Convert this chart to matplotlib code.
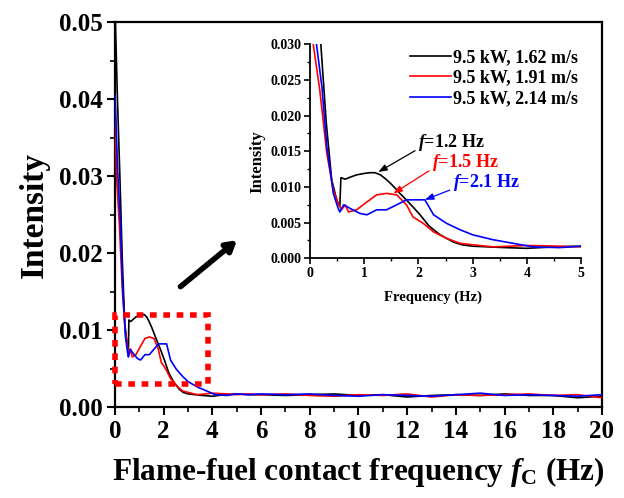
import matplotlib
matplotlib.use("Agg")
import matplotlib.pyplot as plt
from matplotlib.patches import Rectangle
from matplotlib.ticker import MultipleLocator, FormatStrFormatter

plt.rcParams['font.family'] = ['Liberation Serif', 'DejaVu Serif']
plt.rcParams['font.weight'] = 'bold'
plt.rcParams['mathtext.fontset'] = 'custom'
plt.rcParams['mathtext.rm'] = 'Liberation Serif:bold'
plt.rcParams['mathtext.it'] = 'Liberation Serif:bold:italic'
plt.rcParams['mathtext.bf'] = 'Liberation Serif:bold'

labels = ['9.5 kW, 1.62 m/s', '9.5 kW, 1.91 m/s', '9.5 kW, 2.14 m/s']
colors = ['black', 'red', 'blue']

tail_x = [5.5, 6, 7, 8, 9, 10, 11, 12, 13, 14, 15, 16, 17, 18, 19, 20]

black_x = [0, 0.1, 0.2, 0.3, 0.4, 0.5, 0.55, 0.57, 0.65, 0.75, 0.86, 1.0, 1.1, 1.2,
           1.3, 1.4, 1.5, 1.66, 1.8, 1.9, 2.03, 2.2, 2.4, 2.64, 2.8, 3.0, 3.3, 3.6,
           4.0, 4.5, 5.0] + tail_x
black_y = [0.052, 0.040, 0.030, 0.019, 0.011, 0.0080, 0.0073, 0.0113, 0.0111, 0.0114,
           0.0117, 0.0119, 0.0120, 0.0120, 0.0117, 0.0111, 0.0104, 0.0091, 0.0080,
           0.0072, 0.0061, 0.0045, 0.0033, 0.0023, 0.0019, 0.0017, 0.0016, 0.0015,
           0.0014, 0.0016, 0.0017,
           0.0016, 0.0016, 0.0015, 0.0016, 0.0017, 0.0015, 0.0016, 0.0013, 0.0015,
           0.0016, 0.0015, 0.0017, 0.0015, 0.0015, 0.0012, 0.0014]

red_x = [0, 0.06, 0.18, 0.31, 0.43, 0.52, 0.58, 0.65, 0.71, 0.86, 1.05, 1.23, 1.41,
         1.6, 1.78, 1.9, 2.09, 2.28, 2.52, 2.77, 3.0, 3.38, 4.0, 4.6, 5.0] + tail_x
red_y = [0.0405, 0.030, 0.0236, 0.0147, 0.0096, 0.0077, 0.0068, 0.0075, 0.0065, 0.0068,
         0.0079, 0.0089, 0.0091, 0.0089, 0.0075, 0.0058, 0.0049, 0.0037, 0.0028,
         0.0021, 0.0019, 0.0016, 0.0018, 0.0017, 0.0016,
         0.0017, 0.0016, 0.0017, 0.0015, 0.0014, 0.0016, 0.0015, 0.0017, 0.0013,
         0.0016, 0.0015, 0.0016, 0.0017, 0.0015, 0.0016, 0.0012]

blue_x = [0, 0.12, 0.22, 0.31, 0.43, 0.52, 0.55, 0.62, 0.74, 0.92, 1.05, 1.23, 1.41,
          1.6, 1.78, 1.97, 2.12, 2.28, 2.52, 2.77, 3.0, 3.38, 3.75, 4.12, 4.6, 5.0] + tail_x
blue_y = [0.0405, 0.030, 0.024, 0.0157, 0.0091, 0.0070, 0.0065, 0.0075, 0.0070, 0.0063,
          0.0061, 0.0068, 0.0068, 0.0075, 0.0082, 0.0082, 0.0082, 0.0061, 0.0049,
          0.0040, 0.0033, 0.0026, 0.0021, 0.0016, 0.0015, 0.0017,
          0.0016, 0.0017, 0.0016, 0.0017, 0.0015, 0.0014, 0.0016, 0.0015, 0.0014,
          0.0016, 0.0018, 0.0015, 0.0016, 0.0015, 0.0014, 0.0016]

series_x = [black_x, red_x, blue_x]
series_y = [black_y, red_y, blue_y]

peak_text = ['$f$=1.2 Hz', '$f$=1.5 Hz', '$f$=2.1 Hz']
peak_xy = [(1.26, 0.0121), (1.54, 0.0091), (2.12, 0.0082)]
peak_text_xy = [(1.99, 0.0162), (2.25, 0.0134), (2.63, 0.0106)]

fig = plt.figure(figsize=(6.24, 4.98), dpi=100)
ax = fig.add_axes([0.1843, 0.1827, 0.7804, 0.7731])
for x, y, c in zip(series_x, series_y, colors):
    ax.plot(x, y, color=c, lw=1.2, zorder=3)
ax.set_xlim(0, 20)
ax.set_ylim(0, 0.05)
ax.xaxis.set_major_locator(MultipleLocator(2))
ax.xaxis.set_minor_locator(MultipleLocator(1))
ax.yaxis.set_major_locator(MultipleLocator(0.01))
ax.yaxis.set_minor_locator(MultipleLocator(0.005))
ax.yaxis.set_major_formatter(FormatStrFormatter('%.2f'))
ax.tick_params(which='major', direction='out', length=6, width=1.5, labelsize=18, pad=3)
ax.tick_params(which='minor', direction='out', length=3.5, width=1.2)
for s in ax.spines.values():
    s.set_linewidth(1.6)
ax.set_ylabel('Intensity', fontsize=24, fontweight='bold', labelpad=6)
ax.set_xlabel(r'Flame-fuel contact frequency $f_\mathrm{C}$ (Hz)', fontsize=22.5,
              fontweight='bold', labelpad=9)

rect = Rectangle((0, 0.003), 3.8, 0.009, fill=False, edgecolor='red', lw=4,
                 linestyle=(0, (1.2, 1.2)), zorder=4, clip_on=False)
ax.add_patch(rect)

ax.annotate('', xy=(5.1, 0.0219), xytext=(2.6, 0.0154),
            arrowprops=dict(arrowstyle='-|>,head_length=0.6,head_width=0.35',
                            color='black', lw=4))

ins = fig.add_axes([0.4968, 0.4813, 0.4343, 0.4297])
for x, y, c, lab in zip(series_x, series_y, colors, labels):
    ins.plot(x, y, color=c, lw=1.2, label=lab)
ins.set_xlim(0, 5)
ins.set_ylim(0, 0.03)
ins.xaxis.set_major_locator(MultipleLocator(1))
ins.xaxis.set_minor_locator(MultipleLocator(0.5))
ins.yaxis.set_major_locator(MultipleLocator(0.005))
ins.yaxis.set_minor_locator(MultipleLocator(0.0025))
ins.yaxis.set_major_formatter(FormatStrFormatter('%.3f'))
ins.tick_params(which='major', direction='out', length=4, width=1.2, labelsize=10, pad=2)
ins.tick_params(which='minor', direction='out', length=2.5, width=1)
ins.spines['top'].set_visible(False)
ins.spines['right'].set_visible(False)
ins.spines['left'].set_linewidth(1.3)
ins.spines['bottom'].set_linewidth(1.3)
ins.set_xlabel('Frequency (Hz)', fontsize=10.5, fontweight='bold')
ins.set_ylabel('Intensity', fontsize=12, fontweight='bold')
ins.xaxis.set_label_coords(0.454, -0.15)
ins.yaxis.set_label_coords(-0.165, 0.45)
leg = ins.legend(loc='upper right', fontsize=13, frameon=False, handlelength=2.3,
                 handletextpad=0.1, labelspacing=0.18, borderaxespad=0,
                 bbox_to_anchor=(1.015, 1.01))

for t, xy, txy, c in zip(peak_text, peak_xy, peak_text_xy, colors):
    ins.annotate(t, xy=xy, xytext=txy, color=c, fontsize=13, fontweight='bold',
                 va='center', ha='left',
                 arrowprops=dict(arrowstyle='-|>,head_length=0.4,head_width=0.15',
                                 color=c, lw=0.9, shrinkA=0, shrinkB=0,
                                 relpos=(0, 0.2)))

fig.savefig('out.png', dpi=100)
